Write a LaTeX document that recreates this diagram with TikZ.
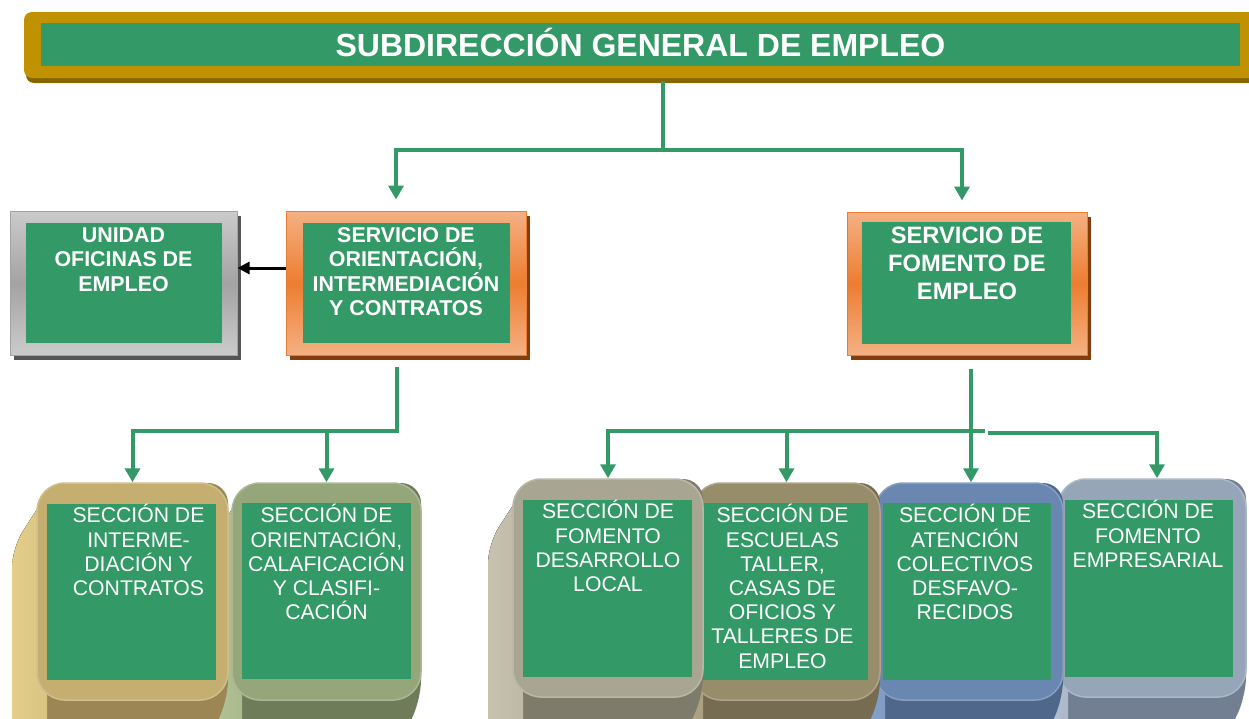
\documentclass[tikz,border=0pt]{standalone}
\usepackage{fontspec}
\setmainfont{Liberation Sans}
\usetikzlibrary{positioning}
\usetikzlibrary{arrows.meta}
\usetikzlibrary{shadows}
\definecolor{verde}{HTML}{339966}
\definecolor{oro}{HTML}{C09100}
\definecolor{orooscuro}{HTML}{866600}
\definecolor{naranja}{HTML}{ED7D31}
\definecolor{naranjaclaro}{HTML}{F4B183}
\definecolor{naranjaoscuro}{HTML}{843C0C}
\definecolor{gris}{HTML}{A3A3A3}
\definecolor{grisclaro}{HTML}{CBCBCB}
\definecolor{grisoscuro}{HTML}{555555}
% colores de las secciones: cara, lateral, fondo
\definecolor{frA}{HTML}{C4AF71}\definecolor{ltA}{HTML}{E5CF8B}\definecolor{dkA}{HTML}{9B8654}
\definecolor{frB}{HTML}{96A67B}\definecolor{ltB}{HTML}{B4C596}\definecolor{dkB}{HTML}{6F7C59}
\definecolor{frC}{HTML}{A9A593}\definecolor{ltC}{HTML}{C8C4B1}\definecolor{dkC}{HTML}{7F7B6B}
\definecolor{frD}{HTML}{988D6B}\definecolor{ltD}{HTML}{B4AA88}\definecolor{dkD}{HTML}{756C51}
\definecolor{frE}{HTML}{6A87B1}\definecolor{ltE}{HTML}{88A6D0}\definecolor{dkE}{HTML}{4F678A}
\definecolor{frF}{HTML}{97A5B9}\definecolor{ltF}{HTML}{B6C3D4}\definecolor{dkF}{HTML}{727F93}
\tikzstyle{cabecera} = [rectangle, rounded corners=8pt, fill=oro, inner sep=0pt,
    minimum width=1240pt, minimum height=66pt,
    drop shadow={shadow xshift=2pt, shadow yshift=-5pt, fill=orooscuro, opacity=1}]
\tikzstyle{titulo} = [rectangle, fill=verde, text=white, inner sep=0pt,
    minimum width=1199pt, minimum height=43pt, text height=23pt, text depth=0pt,
    font=\fontsize{32}{36}\selectfont\bfseries]
\tikzstyle{servicio} = [rectangle, draw=naranja, line width=1pt, inner sep=0pt,
    minimum width=240pt, minimum height=144pt,
    top color=naranjaclaro, bottom color=naranjaclaro, middle color=naranja,
    drop shadow={shadow xshift=4pt, shadow yshift=-5pt, fill=naranjaoscuro, opacity=1}]
\tikzstyle{unidad} = [rectangle, draw=gris, line width=1pt, inner sep=0pt,
    minimum width=227pt, minimum height=144pt,
    top color=grisclaro, bottom color=grisclaro, middle color=gris,
    drop shadow={shadow xshift=4pt, shadow yshift=-5pt, fill=grisoscuro, opacity=1}]
\tikzstyle{interior} = [rectangle, fill=verde, inner sep=0pt]
\tikzstyle{negrita} = [text=white, align=center, inner sep=0pt,
    font=\fontsize{21.4}{24.3}\selectfont\bfseries]
\tikzstyle{seccion} = [text=white, align=center, inner sep=0pt,
    font=\fontsize{21.2}{24.2}\selectfont]
\tikzstyle{cara} = [rectangle, rounded corners=28pt, inner sep=0pt]
\tikzstyle{link} = [draw=verde, line width=4pt, line cap=rect]
\tikzstyle{flecha} = [link, -{Triangle[length=14pt,width=15pt]}]
\tikzstyle{negra} = [draw=black, line width=3pt, -{Triangle[length=12pt,width=12pt]}]

\begin{document}
\begin{tikzpicture}[x=1pt, y=-1pt]
    \clip (0,0) rectangle (1249,718);
    % Cabecera
    \node [cabecera] (sge) at (644,45) {};
    \node [titulo] (tit) at (640.5,44.5) {SUBDIRECCIÓN GENERAL DE EMPLEO};
    % Unidad y servicios
    \node [unidad] (uo) at (123.5,283) {};
    \node [interior, minimum width=196pt, minimum height=120pt] (uoi) at (124,283) {};
    \node [negrita, below=17pt of uo.north] (tuo) {UNIDAD\\OFICINAS DE\\EMPLEO};
    \node [servicio] (so) at (406,283) {};
    \node [interior, minimum width=207pt, minimum height=120pt] (soi) at (406.5,283) {};
    \node [negrita, below=17pt of so.north] (tso) {SERVICIO DE\\ORIENTACIÓN,\\INTERMEDIACIÓN\\Y CONTRATOS};
    \node [servicio, minimum height=143pt] (sf) at (967,283.5) {};
    \node [interior, minimum width=209pt, minimum height=122pt] (sfi) at (966.5,283) {};
    \node [negrita, font=\fontsize{23.7}{28}\selectfont\bfseries, below=15.5pt of sf.north] (tsf)
        {SERVICIO DE\\FOMENTO DE\\EMPLEO};
    % Secciones en relieve (de derecha a izquierda)
    \foreach \nm/\xa/\ya/\xb/\yb/\ia/\ib/\ic/\id/\fr/\lt/\dk in {
        sF/1058/479/1246/697/1065/500/1233/677/frF/ltF/dkF,
        sE/875/483/1063/700/883/503/1051/680/frE/ltE/dkE,
        sD/693/483/880/700/702/503/868/680/frD/ltD/dkD,
        sC/513/479/703/697/523/500/692/677/frC/ltC/dkC,
        sB/232/483/421/700/242/503/411/679/frB/ltB/dkB,
        sA/37/483/228/700/47/504/216/680/frA/ltA/dkA}{
        \begin{scope}
            \clip [rounded corners=20pt] (\xa+17,\ya) -- (\xb,\ya) -- (\xb,\yb) -- (\xb-25,\yb+50)
                -- (\xa-25,\yb+50) -- (\xa-25,\ya+65) -- cycle;
            \fill [\dk] (\xa-30,\ya) rectangle (\xb+5,\yb+60);
            \fill [left color=\lt, right color=\lt!85!\dk] (\xa-30,\ya) rectangle (\xa+10,\yb+60);
        \end{scope}
        \node [cara, fill=\fr, draw=\fr!80!white, line width=1.5pt,
            minimum width=\xb-\xa, minimum height=\yb-\ya] (\nm) at ({(\xa+\xb)/2},{(\ya+\yb)/2}) {};
        \fill [verde] (\ia,\ib) rectangle (\ic,\id);
    }
    \node [seccion, below=22pt of sA.north, xshift=6pt] (tA) {SECCIÓN DE\\INTERME-\\DIACIÓN Y\\CONTRATOS};
    \node [seccion, below=22pt of sB.north] (tB) {SECCIÓN DE\\ORIENTACIÓN,\\CALAFICACIÓN\\Y CLASIFI-\\CACIÓN};
    \node [seccion, below=22pt of sC.north] (tC) {SECCIÓN DE\\FOMENTO\\DESARROLLO\\LOCAL};
    \node [seccion, below=22pt of sD.north, xshift=-4pt] (tD) {SECCIÓN DE\\ESCUELAS\\TALLER,\\CASAS DE\\OFICIOS Y\\TALLERES DE\\EMPLEO};
    \node [seccion, below=22pt of sE.north, xshift=-4pt] (tE) {SECCIÓN DE\\ATENCIÓN\\COLECTIVOS\\DESFAVO-\\RECIDOS};
    \node [seccion, below=22pt of sF.north, xshift=-4pt] (tF) {SECCIÓN DE\\FOMENTO\\EMPRESARIAL};
    % Conectores
    \coordinate (r0) at (663,150);
    \draw [link, shorten <=5pt] (sge.south -| r0) -- (r0);
    \draw [flecha, shorten >=11pt] (r0) -| ([xshift=-10pt]so.north);
    \draw [flecha, shorten >=11pt] (r0) -| ([xshift=-5pt]sf.north);
    \draw [negra] ([yshift=15pt]so.west) -- ([yshift=15pt]uo.east);
    \coordinate (r1) at (397,431);
    \draw [link, shorten <=13pt] (so.south -| r1) -- (r1);
    \draw [flecha] (r1) -| (sA.north);
    \draw [flecha] (r1 -| sB.north) -- (sB.north);
    \draw [flecha, shorten <=15pt] ([xshift=4pt]sf.south) -- ([xshift=4pt]sf.south |- sE.north);
    \coordinate (r3) at (983,431);
    \draw [flecha] (r3) -| (sC.north);
    \draw [flecha] (r3 -| sD.north) -- (sD.north);
    \coordinate (r4) at (990,433);
    \draw [flecha] (r4) -| ([xshift=5pt]sF.north);
\end{tikzpicture}
\end{document}
